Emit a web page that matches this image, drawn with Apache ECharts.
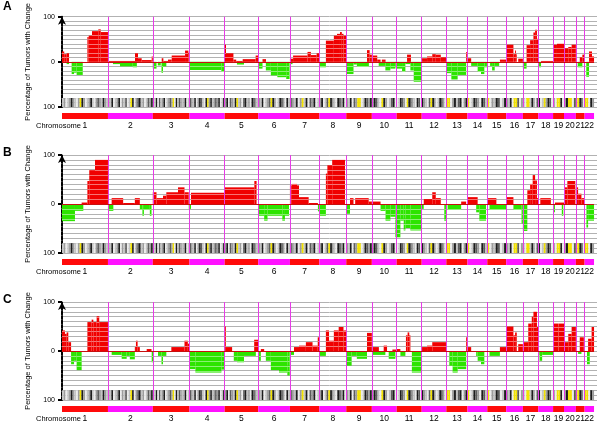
<!DOCTYPE html>
<html>
<head>
<meta charset="utf-8">
<script src="https://cdn.jsdelivr.net/npm/echarts@6/dist/echarts.min.js"></script>
<style>
html, body { margin: 0; padding: 0; background: #fff; }
#chart { width: 600px; height: 423px; }
</style>
</head>
<body>
<div id="chart"></div>
<script>
var chromNames = ['1','2','3','4','5','6','7','8','9','10','11','12','13','14','15','16','17','18','19','20','21','22'];
var chromLengths = [248,242,198,190,181,171,159,145,138,134,135,133,114,107,102,90,83,80,59,64,47,51];

// ideogram band codes per chromosome: w white, l light, g gray, d dark, k black, y centromere
var bandPatterns = [
    'lgwlgkglwgykgwlgklwgdglkgl', 'glkwlgkwgldwlykwgdklgwldgk', 'glkwdlgkwlgdgywkldglgkwl',
    'dglkwgkdlwkygklgdgkwlk', 'gkwdglkylgwdklgwkdgl', 'glkwlgdykgwlkdgwkl', 'dglkwgylkwdgkwl',
    'gkwldykglwkdgkw', 'glkwdgyywlkdgk', 'gkdlwykgwldkw', 'wlkdgwykdglwkdw', 'kglwdykgwlkdgw',
    'yywgkldkwgk', 'ywlkdgwkdl', 'ywglkdwlk', 'glkwyydwg', 'gwyylkgwd', 'kwlygkdw',
    'gwyykw', 'gkyywd', 'yykdw', 'yywkg'
];

// [start Mb, end Mb, % of tumours]
var gainsA = [
    [0,12,23],[12,25,17],[25,38,19],[137,144,55],[144,162,58],[162,196,68],[196,209,72],[209,248,66],
    [248,394,2],[394,410,19],[410,430,8],[430,484,4],[484,490,12],
    [538,547,8],[547,572,2],[572,592,5],[592,664,14],[664,682,25],[682,688,20],
    [878,885,38],[885,925,19],[925,940,5],[940,975,2],[975,1045,6],[1045,1059,14],
    [1082,1101,6],
    [1230,1247,7],[1247,1325,14],[1325,1343,22],[1343,1374,15],[1374,1389,19],
    [1424,1467,47],[1467,1484,58],[1484,1500,62],[1500,1510,66],[1510,1519,62],[1519,1534,58],
    [1646,1660,26],[1660,1672,16],
    [1672,1701,14],[1701,1719,5],[1726,1746,5],
    [1862,1883,16],
    [1943,1970,8],[1970,1998,12],[1998,2017,17],[2017,2044,16],[2044,2072,10],
    [2181,2188,22],[2190,2208,8],[2363,2397,5],
    [2399,2436,38],[2436,2445,17],[2445,2450,25],[2450,2454,17],[2462,2487,7],
    [2507,2526,37],[2526,2544,48],[2544,2553,65],[2553,2563,71],[2563,2570,51],
    [2585,2650,2],
    [2650,2671,38],[2671,2709,40],
    [2711,2732,30],[2732,2750,33],[2750,2773,38],
    [2794,2808,10],[2808,2820,16],
    [2844,2860,23],[2860,2871,12]
];
var lossesA = [
    [25,38,-5],[52,65,-27],[65,79,-24],[79,112,-29],
    [275,313,-5],[313,382,-10],[382,404,-12],
    [490,510,-15],[517,533,-8],[537,545,-24],[545,563,-10],
    [688,860,-18],[860,878,-22],
    [944,982,-6],
    [1061,1082,-15],[1100,1127,-19],[1127,1162,-30],[1162,1210,-34],[1210,1228,-38],
    [1230,1244,-5],[1389,1424,-12],
    [1534,1573,-27],[1573,1591,-6],[1591,1656,-11],
    [1709,1745,-9],[1745,1772,-19],[1772,1799,-15],[1799,1806,-12],
    [1806,1835,-15],[1835,1853,-22],[1853,1880,-5],[1880,1898,-19],[1898,1940,-44],
    [2076,2101,-25],[2101,2135,-39],[2135,2181,-29],
    [2208,2243,-9],[2243,2261,-22],[2261,2279,-27],[2279,2293,-12],
    [2310,2321,-9],[2321,2335,-19],[2335,2359,-9],
    [2487,2507,-15],[2572,2585,-12],[2783,2808,-12],[2829,2844,-33]
];

var gainsB = [
    [106,137,3],[137,147,47],[147,178,69],[178,248,90],
    [268,330,12],[330,393,2],[393,420,12],
    [490,510,24],[510,545,12],[545,563,17],[563,626,24],[626,661,34],[661,684,24],
    [696,878,23],
    [878,1038,34],[1038,1050,47],
    [1230,1240,38],[1240,1268,41],[1268,1279,38],[1279,1331,14],[1331,1381,2],
    [1424,1432,62],[1432,1458,79],[1458,1527,90],
    [1554,1573,12],[1582,1655,12],[1655,1672,5],
    [1672,1719,5],
    [1952,1998,10],[1998,2017,24],[2017,2044,12],
    [2154,2181,5],[2190,2243,14],[2295,2344,12],[2397,2436,14],
    [2511,2526,28],[2526,2540,41],[2540,2553,59],[2553,2563,48],[2563,2570,12],
    [2581,2638,12],[2660,2709,3],
    [2709,2727,34],[2727,2770,47],
    [2773,2785,34],[2785,2803,21],[2803,2817,12]
];
var lossesB = [
    [0,70,-35],[70,115,-14],
    [248,277,-14],[420,434,-12],[434,442,-24],[442,474,-12],[474,483,-24],
    [684,696,-10],
    [1061,1091,-24],[1091,1109,-34],[1109,1189,-24],[1189,1203,-34],[1203,1225,-24],
    [1381,1389,-15],[1389,1424,-24],[1534,1554,-20],
    [1719,1746,-14],[1746,1772,-34],[1772,1799,-26],[1799,1806,-68],
    [1806,1826,-68],[1826,1844,-34],[1844,1853,-54],[1853,1880,-49],[1880,1940,-54],
    [1941,1952,-10],[2063,2072,-34],
    [2081,2154,-12],
    [2235,2252,-17],[2252,2288,-34],
    [2307,2397,-12],
    [2436,2480,-12],[2480,2487,-40],
    [2487,2511,-55],
    [2650,2660,-17],[2697,2705,-24],
    [2830,2839,-48],[2839,2871,-34]
];

var gainsC = [
    [0,16,42],[16,25,35],[25,34,38],[34,49,18],[137,160,59],[160,169,64],[169,187,59],[187,201,71],[201,248,59],
    [393,399,8],[399,408,21],[408,420,8],[457,483,4],
    [590,661,8],[661,679,21],[679,688,15],
    [878,884,50],[884,918,8],[1037,1059,23],
    [1073,1091,4],
    [1252,1279,8],[1279,1316,11],[1316,1352,18],[1352,1380,11],[1380,1389,28],
    [1424,1441,42],[1441,1467,21],[1467,1493,42],[1493,1519,49],[1519,1534,42],
    [1646,1672,37],
    [1672,1710,8],[1736,1754,11],[1783,1806,3],
    [1806,1826,4],[1856,1865,32],[1865,1874,38],[1874,1880,32],
    [1943,1970,8],[1970,1998,11],[1998,2072,18],
    [2181,2188,28],[2188,2208,8],[2363,2397,8],
    [2401,2436,50],[2436,2445,32],[2445,2454,38],[2462,2487,14],
    [2489,2516,18],[2516,2535,56],[2535,2544,70],[2544,2563,80],[2563,2570,49],
    [2652,2680,56],[2681,2709,56],
    [2711,2732,18],[2732,2750,35],[2750,2773,49],
    [2794,2816,28],
    [2839,2858,25],[2858,2871,49]
];
var lossesC = [
    [49,65,-27],[65,79,-20],[79,106,-39],
    [268,322,-8],[322,349,-16],[349,366,-10],[366,393,-17],
    [484,495,-23],[518,537,-10],[537,545,-27],[545,563,-10],
    [688,720,-37],[720,860,-44],[860,878,-38],
    [927,945,-20],[945,982,-23],[982,1046,-10],
    [1061,1073,-20],[1100,1127,-20],[1127,1171,-39],[1171,1216,-44],[1216,1229,-50],
    [1230,1252,-8],[1389,1424,-10],
    [1534,1563,-30],[1563,1591,-10],[1591,1646,-16],
    [1674,1745,-8],[1763,1799,-16],
    [1826,1853,-10],[1888,1940,-44],
    [2090,2108,-30],[2108,2135,-44],[2135,2181,-37],
    [2235,2243,-10],[2243,2261,-20],[2261,2279,-27],
    [2307,2363,-10],
    [2570,2577,-8],[2577,2591,-20],[2591,2650,-8],
    [2785,2803,-6],[2833,2848,-27]
];

var panels = [
    { letter: 'A', gains: gainsA, losses: lossesA },
    { letter: 'B', gains: gainsB, losses: lossesB },
    { letter: 'C', gains: gainsC, losses: lossesC }
];

var FONT = '"Liberation Sans", Arial, sans-serif';
var gridTops = [9, 155, 302];
var gridH = 98;
var bandColors = { w: '#ececec', l: '#c4c4c4', g: '#9c9c9c', d: '#5c5c5c', k: '#1c1c1c', y: '#f2e200' };
var bandKeys = ['w', 'l', 'g', 'd', 'k', 'y'];

// chromosome starts, boundaries, mid points
var chromStarts = [];
var acc = 0;
chromLengths.forEach(function (len) { chromStarts.push(acc); acc += len; });
var genomeEnd = acc;
var boundaries = chromStarts.slice(1);
var labelData = chromStarts.map(function (s, i) { return [s + chromLengths[i] / 2, i]; });

var bandData = [];
bandPatterns.forEach(function (pat, i) {
    var w = chromLengths[i] / pat.length;
    for (var j = 0; j < pat.length; j++) {
        bandData.push([chromStarts[i] + j * w, chromStarts[i] + (j + 1) * w, bandKeys.indexOf(pat[j])]);
    }
});
var chromBarData = chromStarts.map(function (s, i) { return [s, s + chromLengths[i], i]; });

function barRender(color) {
    return function (params, api) {
        var x0 = api.value(0), x1 = api.value(1), v = api.value(2);
        var p0 = api.coord([x0, 0]);
        var p1 = api.coord([x1, v]);
        var kids = [{
            type: 'rect',
            shape: { x: p0[0], y: Math.min(p0[1], p1[1]), width: p1[0] - p0[0], height: Math.abs(p1[1] - p0[1]) },
            style: { fill: color }
        }];
        var step = v > 0 ? 10 : -10;
        for (var t = step; Math.abs(t) < Math.abs(v); t += step) {
            var y = Math.round(api.coord([x0, t])[1]) + 0.5;
            kids.push({ type: 'line', shape: { x1: p0[0], y1: y, x2: p1[0], y2: y },
                style: { stroke: 'rgba(255,255,255,0.45)', lineWidth: 1 } });
        }
        return { type: 'group', children: kids };
    };
}

var option = {
    animation: false,
    backgroundColor: '#fff',
    grid: [], xAxis: [], yAxis: [], series: [], graphic: []
};

panels.forEach(function (p, i) {
    var top = gridTops[i];
    option.grid.push({ left: 62, top: top, width: 535, height: gridH });
    option.xAxis.push({
        type: 'value', gridIndex: i, min: 0, max: 2887,
        axisLine: { show: false }, axisTick: { show: false }, splitLine: { show: false },
        axisLabel: { show: false }
    });
    // grid lines axis
    option.yAxis.push({
        type: 'value', gridIndex: i, min: -100, max: 100, interval: 10,
        axisLine: { show: false }, axisTick: { show: false }, axisLabel: { show: false },
        splitLine: { show: true, lineStyle: { color: '#b2b2b2', width: 1 } }
    });
    // visible axis with arrow
    option.yAxis.push({
        type: 'value', gridIndex: i, min: -100, max: 100, position: 'left',
        splitLine: { show: false },
        axisLine: { show: true, symbol: ['none', 'arrow'], symbolSize: [6, 8],
            lineStyle: { color: '#000', width: 2, type: [3, 1.5] } },
        axisTick: { show: true, customValues: [-100, 0, 100], length: 4, lineStyle: { color: '#000', width: 2 } },
        axisLabel: { customValues: [-100, 0, 100], margin: 7, fontSize: 7, color: '#000', fontFamily: FONT,
            formatter: function (v) { return String(Math.abs(v)); } },
        name: 'Percentage of Tumors with Change', nameLocation: 'middle', nameGap: 28,
        nameTextStyle: { fontSize: 7.5, color: '#000', fontFamily: FONT }
    });

    option.series.push({
        type: 'custom', xAxisIndex: i, yAxisIndex: 2 * i, data: bandData, encode: { x: [0, 1] }, z: 2,
        renderItem: function (params, api) {
            var a = api.coord([api.value(0), -80]);
            var b = api.coord([api.value(1), -100]);
            return { type: 'rect', shape: { x: a[0], y: a[1], width: b[0] - a[0], height: b[1] - a[1] },
                style: { fill: bandColors[bandKeys[api.value(2)]] } };
        }
    });
    option.series.push({
        type: 'custom', xAxisIndex: i, yAxisIndex: 2 * i, data: p.losses,
        encode: { x: [0, 1], y: 2 }, z: 3, renderItem: barRender('#2de400')
    });
    option.series.push({
        type: 'custom', xAxisIndex: i, yAxisIndex: 2 * i, data: p.gains,
        encode: { x: [0, 1], y: 2 }, z: 3, renderItem: barRender('#f00000')
    });
    option.series.push({
        type: 'custom', xAxisIndex: i, yAxisIndex: 2 * i, data: chromBarData, encode: { x: [0, 1] },
        clip: false, z: 5,
        renderItem: function (params, api) {
            var a = api.coord([api.value(0), -100]);
            var b = api.coord([api.value(1), -100]);
            return { type: 'rect', shape: { x: a[0], y: a[1] + 6, width: b[0] - a[0], height: 6 },
                style: { fill: api.value(2) % 2 ? '#ff10ff' : '#ff0a0a' } };
        },
        markLine: {
            silent: true, symbol: ['none', 'none'], label: { show: false },
            lineStyle: { color: '#e63ce6', width: 1, type: 'solid' },
            data: boundaries.map(function (b) { return { xAxis: b }; }).concat([
                [{ coord: [0, 0], lineStyle: { color: '#c81010', width: 1, type: 'solid' } }, { coord: [genomeEnd, 0] }]
            ])
        }
    });
    // chromosome number labels
    option.series.push({
        type: 'custom', xAxisIndex: i, yAxisIndex: 2 * i, data: labelData, encode: { x: 0 },
        clip: false, z: 5,
        renderItem: function (params, api) {
            var c = api.coord([api.value(0), -100]);
            return { type: 'text', x: c[0], y: c[1] + 19,
                style: { text: chromNames[api.value(1)], fill: '#000', font: '8.5px ' + FONT,
                    align: 'center', verticalAlign: 'middle' } };
        }
    });

    option.graphic.push({
        type: 'text', left: 3, top: top - 8,
        style: { text: p.letter, font: 'bold 12px ' + FONT, fill: '#000' }
    });
    option.graphic.push({
        type: 'text', left: 36, top: top + gridH + 15,
        style: { text: 'Chromosome', font: '7.5px ' + FONT, fill: '#000' }
    });
});

var chart = echarts.init(document.getElementById('chart'), null, { renderer: 'canvas' });
chart.setOption(option);
</script>
</body>
</html>
